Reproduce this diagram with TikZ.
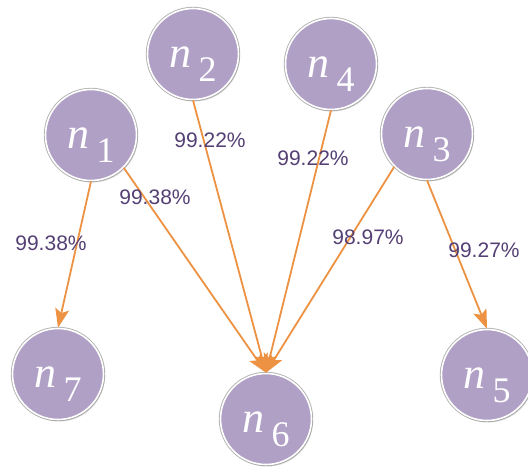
\documentclass[tikz,border=0pt]{standalone}
\usepackage{fontspec}
\setmainfont{Liberation Serif}
\newfontfamily\pctfont{Liberation Sans}
\usepackage{tikz}
\usetikzlibrary{arrows.meta,shadows}

\definecolor{nodefill}{RGB}{176,160,198}
\definecolor{edgeorange}{RGB}{236,146,66}
\definecolor{pcttext}{RGB}{84,64,116}

\newcommand{\nidx}[1]{\raisebox{-13pt}[0pt][0pt]{{\fontsize{44}{44}\selectfont\itshape n}\hspace{7pt}\raisebox{-14pt}{\fontsize{36}{36}\selectfont #1}}}

\begin{document}
\begin{tikzpicture}[x=1pt,y=-1pt]

\tikzset{
  vtx/.style  = {circle, minimum size=91pt, inner sep=0pt, fill=nodefill,
                 draw=white, line width=1.6pt, text=white,
                 preaction={draw=black!30, line width=3.4pt},
                 drop shadow={shadow xshift=1.5pt, shadow yshift=-2pt, opacity=0.25}},
  flow/.style = {-{Stealth[length=19pt,width=14pt,inset=4pt]}, draw=edgeorange,
                 line width=1.8pt},
  pct/.style  = {font=\pctfont\fontsize{21}{23}\selectfont, text=pcttext, inner sep=1pt},
}

\useasboundingbox (0,0) rectangle (528,472);

\node[vtx] (n1) at (91,135) {\nidx{1}};
\node[vtx] (n2) at (193,54) {\nidx{2}};
\node[vtx] (n4) at (331,64) {\nidx{4}};
\node[vtx] (n3) at (427,134) {\nidx{3}};
\node[vtx] (n7) at (58,374) {\nidx{7}};
\node[vtx] (n6) at (266,419) {\nidx{6}};
\node[vtx] (n5) at (487,375) {\nidx{5}};

\draw[flow] (n1.south) -- (n7.north);
\draw[flow] (n1.south east) -- (n6.north);
\draw[flow] (n2.south) -- (n6.north);
\draw[flow] (n4.south) -- (n6.north);
\draw[flow] (n3.south west) -- (n6.north);
\draw[flow] (n3.south) -- (n5.north);

\node[pct] (p17) at (51,243) {99.38\%};
\node[pct] (p16) at (155,197) {99.38\%};
\node[pct] (p26) at (210,140) {99.22\%};
\node[pct] (p46) at (313,158) {99.22\%};
\node[pct] (p36) at (368,237) {98.97\%};
\node[pct] (p35) at (484,250) {99.27\%};
\end{tikzpicture}
\end{document}
